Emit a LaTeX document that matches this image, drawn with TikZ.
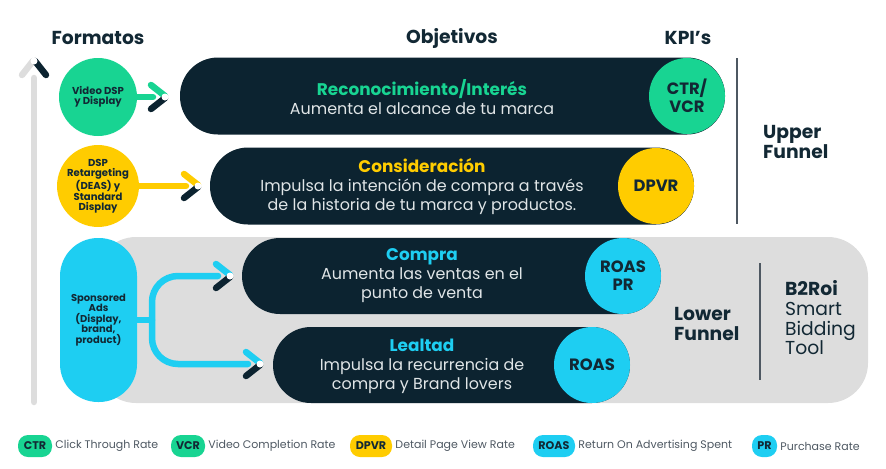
\documentclass[tikz,border=0pt]{standalone}
\usepackage{fontspec}
\setmainfont{Poppins}
\usetikzlibrary{positioning, calc}
\definecolor{azulnoche}{RGB}{12,35,48}
\definecolor{verde}{RGB}{24,212,146}
\definecolor{amarillo}{RGB}{255,204,0}
\definecolor{celeste}{RGB}{30,206,242}
\definecolor{grisfondo}{RGB}{221,221,221}
\definecolor{textooscuro}{RGB}{18,40,52}
\definecolor{textoclaro}{RGB}{224,229,231}
\definecolor{textogris}{RGB}{78,88,98}
\newcommand{\pxu}{0.03cm}

\begin{document}
\begin{tikzpicture}[x=0.03cm, y=-0.03cm,
    pastilla/.style={rectangle, fill=azulnoche, rounded corners=38*\pxu, minimum height=77*\pxu, inner sep=0pt},
    kpi/.style={circle, minimum size=76*\pxu, inner sep=0pt, align=center, text=textooscuro, font=\bfseries\fontsize{14}{15.5}\selectfont},
    formato/.style={circle, minimum size=78*\pxu, inner sep=0pt, align=center, text=textooscuro, font=\bfseries\fontsize{8.6}{8.9}\selectfont},
    titulo/.style={text=textooscuro, font=\bfseries\fontsize{16}{17}\selectfont},
    lateral/.style={anchor=west, align=left, text=textooscuro, font=\fontsize{16}{16.8}\selectfont},
    objetivo/.style={align=center, text=textoclaro, font=\fontsize{13.6}{16.2}\selectfont},
    insignia/.style={rectangle, rounded corners=10*\pxu, minimum height=22*\pxu, inner sep=0pt, text=textooscuro, font=\bfseries\fontsize{9.5}{10}\selectfont},
    leyenda/.style={inner sep=0pt, text=textogris, font=\fontsize{9.4}{11}\selectfont},
    flecha/.style={line width=6.5*\pxu, line cap=round},
    separador/.style={line width=1.3*\pxu, textogris},
    pics/chevron/.style={code={
      \draw[flecha, #1] (-16,-12) -- (-2,-1);
      \draw[flecha, azulnoche] (-16,12) -- (-2,1);
      \fill[white] (-2,0) circle[radius=3.5];
    }}
  ]
  \useasboundingbox (0,0) rectangle (886,468);

  % Encabezados
  \node[titulo] (hdrFormatos) at (98,38) {Formatos};
  \node[titulo] (hdrObjetivos) at (452,38) {Objetivos};
  \node[titulo] (hdrKpi) at (688,38) {KPI’s};

  % Eje vertical
  \draw[flecha, grisfondo] (34,78) -- (34,402);
  \pic[rotate=90] at (34,59) {chevron=grisfondo};

  % Fondo lower funnel
  \fill[grisfondo, rounded corners=40*\pxu] (96,237) rectangle (868,403);

  % Upper funnel: reconocimiento
  \node[formato, fill=verde] (fmtVideo) at (98,97) {Video DSP\\y Display};
  \node[pastilla, minimum width=545*\pxu] (objRecon) at (452.5,96) {};
  \node[kpi, fill=verde] (kpiRecon) at (687,96) {CTR/\\VCR};
  \node[objetivo] (txtRecon) at (422,97)
    {{\bfseries\fontsize{14.4}{16.2}\selectfont\color{verde}Reconocimiento/Interés}\\Aumenta el alcance de tu marca};
  \coordinate (tipRecon) at (167,97);
  \draw[flecha, verde] (fmtVideo) -- ([xshift=-14*\pxu]tipRecon);
  \pic at (tipRecon) {chevron=verde};

  % Upper funnel: consideracion
  \node[formato, fill=amarillo] (fmtRetarg) at (98,186)
    {DSP\\Retargeting\\(DEAS) y\\Standard\\Display};
  \node[pastilla, minimum width=484*\pxu] (objConsid) at (452,186) {};
  \node[kpi, fill=amarillo] (kpiConsid) at (656,186) {DPVR};
  \node[objetivo] (txtConsid) at (422,187)
    {{\bfseries\fontsize{14.4}{16.2}\selectfont\color{amarillo}Consideración}\\Impulsa la intención de compra a través\\de la historia de tu marca y productos.};
  \coordinate (tipConsid) at (200,186);
  \draw[flecha, amarillo] (fmtRetarg) -- ([xshift=-14*\pxu]tipConsid);
  \pic at (tipConsid) {chevron=amarillo};

  \draw[separador] (737,58) -- (737,224);
  \node[lateral, font=\bfseries\fontsize{16}{17.5}\selectfont] (upperFunnel) at (759,142) {Upper\\Funnel};

  % Lower funnel
  \node[rectangle, fill=celeste, rounded corners=38*\pxu, minimum width=77*\pxu, minimum height=164*\pxu,
    inner sep=0pt, align=center, text=textooscuro, font=\bfseries\fontsize{8.5}{8.9}\selectfont]
    (fmtSponsored) at (98.5,320) {Sponsored\\Ads\\(Display,\\brand,\\product)};
  \node[pastilla, minimum width=419*\pxu, minimum height=76*\pxu] (objCompra) at (451.5,276) {};
  \node[kpi, fill=celeste] (kpiCompra) at (623,276) {ROAS\\PR};
  \node[objetivo] (txtCompra) at (422,276)
    {{\bfseries\fontsize{14.4}{16.2}\selectfont\color{celeste}Compra}\\Aumenta las ventas en el\\punto de venta};
  \node[pastilla, minimum width=357*\pxu, minimum height=76*\pxu] (objLealtad) at (451.5,365) {};
  \node[kpi, fill=celeste] (kpiLealtad) at (592,365) {ROAS};
  \node[objetivo] (txtLealtad) at (422,366)
    {{\bfseries\fontsize{14.4}{16.2}\selectfont\color{celeste}Lealtad}\\Impulsa la recurrencia de\\compra y Brand lovers};

  % Bifurcacion sponsored
  \coordinate (branchSp) at (152,320);
  \coordinate (tipCompra) at (232,276);
  \coordinate (tipLealtad) at (262,364);
  \draw[flecha, celeste, line cap=butt] (fmtSponsored) -- (branchSp);
  \draw[flecha, celeste, rounded corners=26*\pxu] (branchSp) |- ([xshift=-14*\pxu]tipCompra);
  \draw[flecha, celeste, rounded corners=26*\pxu] (branchSp) |- ([xshift=-14*\pxu]tipLealtad);
  \pic at (tipCompra) {chevron=celeste};
  \pic at (tipLealtad) {chevron=celeste};

  \node[lateral, font=\bfseries\fontsize{16}{17.5}\selectfont] (lowerFunnel) at (670,324) {Lower\\Funnel};
  \draw[separador] (760,263) -- (760,380);
  \node[lateral] (b2roi) at (781,318) {\textbf{B2Roi}\\Smart\\Bidding\\Tool};

  % Leyenda
  \node[insignia, fill=verde, minimum width=34*\pxu] (legCtr) at (35,446) {CTR};
  \node[leyenda, right=3*\pxu of legCtr] (legCtrTxt) {Click Through Rate};
  \node[insignia, fill=verde, minimum width=34*\pxu] (legVcr) at (188,446) {VCR};
  \node[leyenda, right=3*\pxu of legVcr] (legVcrTxt) {Video Completion Rate};
  \node[insignia, fill=amarillo, minimum width=42*\pxu] (legDpvr) at (371,446) {DPVR};
  \node[leyenda, right=3*\pxu of legDpvr] (legDpvrTxt) {Detail Page View Rate};
  \node[insignia, fill=celeste, minimum width=42*\pxu] (legRoas) at (554,446) {ROAS};
  \node[leyenda, right=3*\pxu of legRoas] (legRoasTxt) {Return On Advertising Spent};
  \node[insignia, fill=celeste, minimum width=25*\pxu] (legPr) at (764.5,446) {PR};
  \node[leyenda, right=3*\pxu of legPr] (legPrTxt) {Purchase Rate};
\end{tikzpicture}
\end{document}
